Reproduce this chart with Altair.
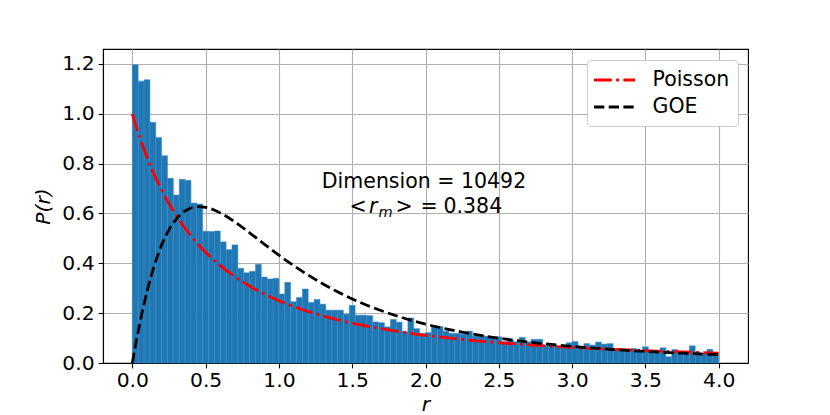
import altair as alt
import numpy as np
import pandas as pd

# ---- data ----
heights = [1.197, 1.131, 1.137, 0.966, 0.905, 0.832, 0.741, 0.674, 0.737, 0.733,
           0.642, 0.638, 0.529, 0.528, 0.530, 0.486, 0.455, 0.474, 0.380, 0.362,
           0.368, 0.396, 0.345, 0.337, 0.340, 0.277, 0.324, 0.246, 0.263, 0.297,
           0.243, 0.255, 0.236, 0.212, 0.212, 0.212, 0.196, 0.231, 0.192, 0.192,
           0.190, 0.165, 0.162, 0.145, 0.175, 0.164, 0.126, 0.181, 0.138, 0.119,
           0.122, 0.150, 0.146, 0.128, 0.119, 0.119, 0.116, 0.128, 0.108, 0.112,
           0.108, 0.105, 0.105, 0.085, 0.092, 0.085, 0.103, 0.085, 0.095, 0.095,
           0.072, 0.072, 0.068, 0.065, 0.081, 0.086, 0.065, 0.078, 0.072, 0.084,
           0.076, 0.078, 0.055, 0.055, 0.051, 0.058, 0.049, 0.065, 0.047, 0.045,
           0.061, 0.025, 0.054, 0.047, 0.045, 0.069, 0.042, 0.038, 0.055, 0.035]
bin_width = 0.04

r_curve = [0.0, 0.025, 0.05, 0.1, 0.15, 0.2, 0.25, 0.3, 0.35, 0.4, 0.45, 0.5,
           0.6, 0.7, 0.8, 0.9, 1.0, 1.2, 1.4, 1.6, 1.8, 2.0, 2.25, 2.5, 2.75,
           3.0, 3.25, 3.5, 3.75, 4.0]
poisson_vals = [1.0, 0.9518, 0.9070, 0.8264, 0.7561, 0.6944, 0.6400, 0.5917,
                0.5487, 0.5102, 0.4756, 0.4444, 0.3906, 0.3460, 0.3086, 0.2770,
                0.2500, 0.2066, 0.1736, 0.1479, 0.1276, 0.1111, 0.0947, 0.0816,
                0.0711, 0.0625, 0.0554, 0.0494, 0.0444, 0.0400]
goe_vals = [0.0, 0.0812, 0.1559, 0.2860, 0.3911, 0.4731, 0.5344, 0.5778,
            0.6061, 0.6218, 0.6273, 0.6248, 0.6024, 0.5658, 0.5226, 0.4774,
            0.4330, 0.3525, 0.2857, 0.2321, 0.1897, 0.1562, 0.1239, 0.0995,
            0.0809, 0.0665, 0.0552, 0.0463, 0.0392, 0.0334]
series_names = ["Poisson", "GOE"]

x_ticks = [0.0, 0.5, 1.0, 1.5, 2.0, 2.5, 3.0, 3.5, 4.0]
y_ticks = [0.0, 0.2, 0.4, 0.6, 0.8, 1.0, 1.2]
dimension_text = "Dimension = 10492"
rm_value = "0.384"

# ---- tables ----
starts = np.round(np.arange(len(heights)) * bin_width, 4)
hist_df = pd.DataFrame({"start": starts, "end": np.round(starts + bin_width, 4), "p": heights})
curve_df = pd.concat([
    pd.DataFrame({"r": r_curve, "p": poisson_vals, "series": series_names[0], "order": range(len(r_curve))}),
    pd.DataFrame({"r": r_curve, "p": goe_vals, "series": series_names[1], "order": range(len(r_curve))}),
])

FS = 20.3
FT = 20.5
xscale = alt.Scale(domain=[-0.2, 4.2], nice=False, zero=False)
yscale = alt.Scale(domain=[0, 1.26], nice=False, zero=False)

bars = alt.Chart(hist_df).mark_rect(color="#1f77b4", stroke="#3d8bc6", strokeWidth=0.5).encode(
    x=alt.X("start:Q", scale=xscale,
            axis=alt.Axis(values=x_ticks, format=".1f", title="r", titleFontStyle="italic",
                          labelPadding=3, titlePadding=3)),
    x2="end:Q",
    y=alt.Y("p:Q", scale=yscale,
            axis=alt.Axis(values=y_ticks, format=".1f", title="P(r)", titleFontStyle="italic",
                          labelPadding=4, titlePadding=8)),
    y2=alt.datum(0),
)

lines = alt.Chart(curve_df).mark_line(strokeWidth=2.78, interpolate="monotone").encode(
    x="r:Q",
    y="p:Q",
    order="order:Q",
    color=alt.Color("series:N", sort=series_names,
                    scale=alt.Scale(domain=series_names, range=["red", "black"]),
                    legend=alt.Legend(title=None)),
    strokeDash=alt.StrokeDash("series:N", sort=series_names,
                              scale=alt.Scale(domain=series_names,
                                              range=[[17.8, 4.4, 2.8, 4.4], [10.3, 4.4]]),
                              legend=alt.Legend(title=None)),
)

one = pd.DataFrame({"x": [2.0], "y1": [0.702], "y2": [0.603]})
base_t = alt.Chart(one)


def piece(txt, dx, ycol, size=FT, dy=0, style="normal", align="left"):
    return base_t.mark_text(fontSize=size, align=align, baseline="alphabetic", dx=dx, dy=dy,
                            fontStyle=style, text=txt).encode(x="x:Q", y=f"{ycol}:Q")


ann1 = piece(dimension_text, -1.5, "y1", align="center")
lt = piece("<", -76, "y2")
rr = piece("r", -56.5, "y2", style="italic")
mm = piece("m", -47, "y2", size=14.5, dy=4.5, style="italic")
gt = piece(">", -30, "y2")
eq = piece("=", -5, "y2")
val = piece(rm_value, 18, "y2")

chart = alt.layer(bars, lines, ann1, lt, rr, mm, gt, eq, val).properties(
    width=645, height=314,
    autosize=alt.AutoSizeParams(type="none"),
    padding={"left": 95, "top": 41, "right": 70, "bottom": 60},
).configure(
    font="DejaVu Sans",
).configure_view(
    stroke="black", strokeWidth=1.1,
).configure_axis(
    zindex=1,
    grid=True, gridColor="#b0b0b0", gridWidth=1.1,
    domainColor="black", domainWidth=1.1,
    tickColor="black", tickWidth=1.1, tickSize=4.9,
    labelFontSize=FS, labelColor="black",
    titleFontSize=FS, titleColor="black", titleFontWeight="normal",
).configure_legend(
    orient="none", legendX=484, legendY=11,
    fillColor="white", strokeColor="#cccccc", cornerRadius=4, padding=8,
    labelFontSize=FT, labelColor="black", labelOffset=26,
    symbolType="M-2,0H2", symbolSize=420, symbolStrokeWidth=2.78, symbolOffset=7.5,
    rowPadding=4,
)

chart.save("out.html", embed_options={"renderer": "svg", "actions": False})
